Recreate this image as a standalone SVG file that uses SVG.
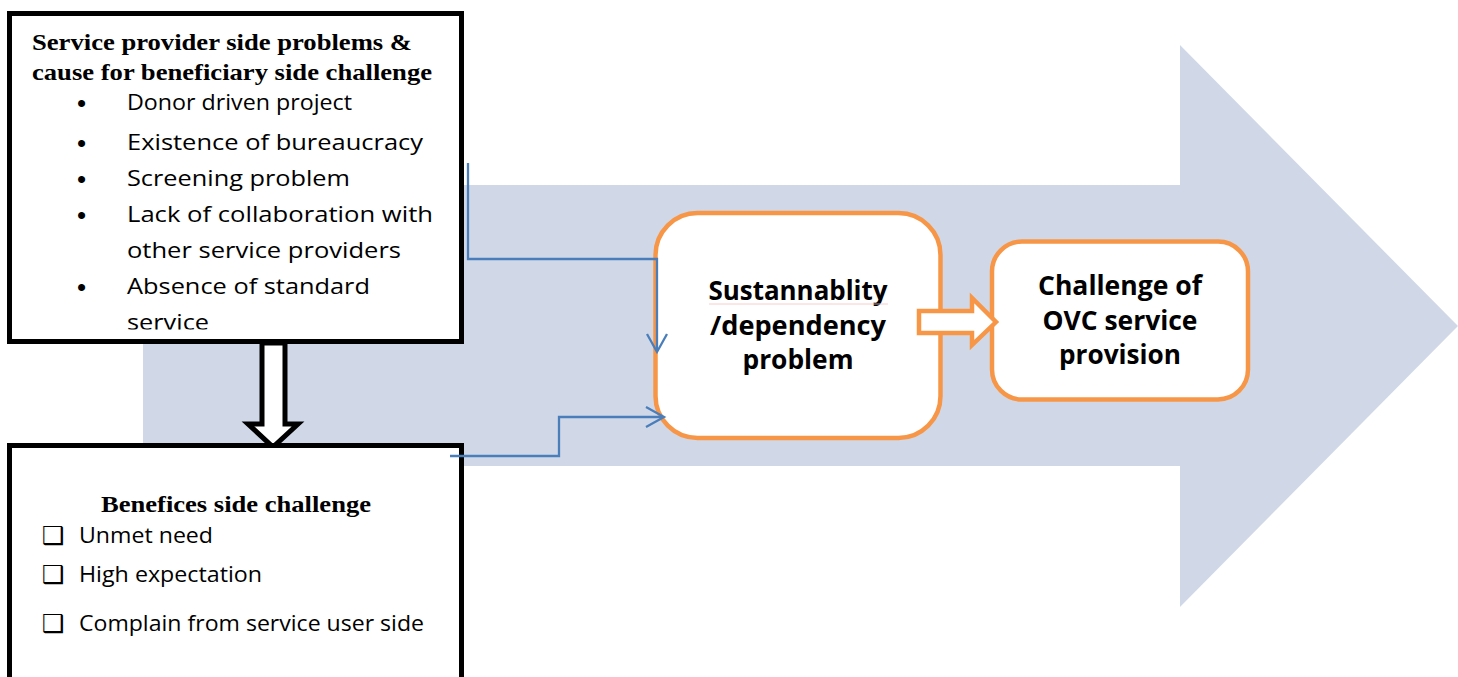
<svg xmlns="http://www.w3.org/2000/svg" width="1458" height="677" viewBox="0 0 1458 677">
<style>
.body{font-family:"Open Sans","Liberation Sans",sans-serif;font-size:22px;fill:#000}
.bul{font-family:"Liberation Sans",sans-serif;font-size:26px;fill:#000}
.ttl{font-family:"Liberation Serif",serif;font-weight:bold;font-size:22.5px;fill:#000}
.bold{font-family:"Open Sans","Liberation Sans",sans-serif;font-weight:bold;font-size:26px;fill:#000;text-anchor:middle}
.blk{fill:#fff;stroke:#000;stroke-width:5}
.org{fill:#fff;stroke:#f79646;stroke-width:4.5}
.conn{fill:none;stroke:#4a7ebb;stroke-width:2.3}
.chk{font-family:"DejaVu Sans",sans-serif;font-size:25px;fill:#000}
</style>
<defs>
<clipPath id="clipTop"><rect x="12" y="15" width="447" height="314.5"/></clipPath>
</defs>
<g id="bigArrow">
<polygon points="143,185 1180,185 1180,45 1458,326 1180,607 1180,466 143,466" fill="#d0d8e8"/>
</g>
<g id="providerBox">
<rect class="blk" x="9.5" y="13.5" width="452" height="328"/>
<g clip-path="url(#clipTop)">
<text class="ttl" x="32" y="50" textLength="380" lengthAdjust="spacingAndGlyphs">Service provider side problems &amp;</text>
<text class="ttl" x="32" y="80" textLength="400" lengthAdjust="spacingAndGlyphs">cause for beneficiary side challenge</text>
<g class="bul">
<text x="77" y="112">•</text>
<text x="77" y="152">•</text>
<text x="77" y="188">•</text>
<text x="77" y="224">•</text>
<text x="77" y="296">•</text>
</g>
<g class="body">
<text x="127" y="110" textLength="225" lengthAdjust="spacingAndGlyphs">Donor driven project</text>
<text x="127" y="150" textLength="296" lengthAdjust="spacingAndGlyphs">Existence of bureaucracy</text>
<text x="127" y="186" textLength="223" lengthAdjust="spacingAndGlyphs">Screening problem</text>
<text x="127" y="222" textLength="306" lengthAdjust="spacingAndGlyphs">Lack of collaboration with</text>
<text x="127" y="258" textLength="274" lengthAdjust="spacingAndGlyphs">other service providers</text>
<text x="127" y="294" textLength="243" lengthAdjust="spacingAndGlyphs">Absence of standard</text>
<text x="127" y="330" textLength="82" lengthAdjust="spacingAndGlyphs">service</text>
</g>
</g>
</g>
<g id="downArrow">
<polygon class="blk" stroke-width="4" points="262,343 285,343 285,424 298,424 273,447 248,424 262,424"/>
</g>
<g id="beneficiaryBox">
<rect class="blk" x="9.5" y="445.5" width="452" height="260"/>
<text class="ttl" x="236" y="512" text-anchor="middle" textLength="270" lengthAdjust="spacingAndGlyphs">Benefices side challenge</text>
<text class="chk" x="42" y="544">❑</text>
<text class="body" x="79" y="543" textLength="134" lengthAdjust="spacingAndGlyphs">Unmet need</text>
<text class="chk" x="42" y="583">❑</text>
<text class="body" x="79" y="582" textLength="183" lengthAdjust="spacingAndGlyphs">High expectation</text>
<text class="chk" x="42" y="632">❑</text>
<text class="body" x="79" y="631" textLength="345" lengthAdjust="spacingAndGlyphs">Complain from service user side</text>
</g>
<g id="sustainBox">
<rect class="org" x="655.5" y="213" width="285" height="225" rx="42"/>
<text class="bold" x="798" y="300" textLength="179" lengthAdjust="spacingAndGlyphs">Sustannablity</text>
<line x1="709" y1="304" x2="888" y2="304" stroke="#f6c0c0" stroke-width="0.8"/>
<text class="bold" x="798" y="335" textLength="176" lengthAdjust="spacingAndGlyphs">/dependency</text>
<text class="bold" x="798" y="369" textLength="111" lengthAdjust="spacingAndGlyphs">problem</text>
</g>
<g id="challengeBox">
<rect class="org" x="992" y="241.5" width="256" height="158" rx="30"/>
<text class="bold" x="1120" y="295" textLength="164" lengthAdjust="spacingAndGlyphs">Challenge of</text>
<text class="bold" x="1120" y="330" textLength="155" lengthAdjust="spacingAndGlyphs">OVC service</text>
<text class="bold" x="1120" y="364" textLength="122" lengthAdjust="spacingAndGlyphs">provision</text>
</g>
<g id="connectors">
<polyline class="conn" points="468,163 468,259 657,259 657,351"/>
<polyline class="conn" points="647,334 657,352 667,334"/>
<polyline class="conn" points="450,456 559,456 559,417 663,417"/>
<polyline class="conn" points="646,407 664,417 646,427"/>
<polygon class="org" stroke-width="4" points="919,311 972,311 972,298 996,322 972,345 972,333 919,333"/>
</g>
</svg>
